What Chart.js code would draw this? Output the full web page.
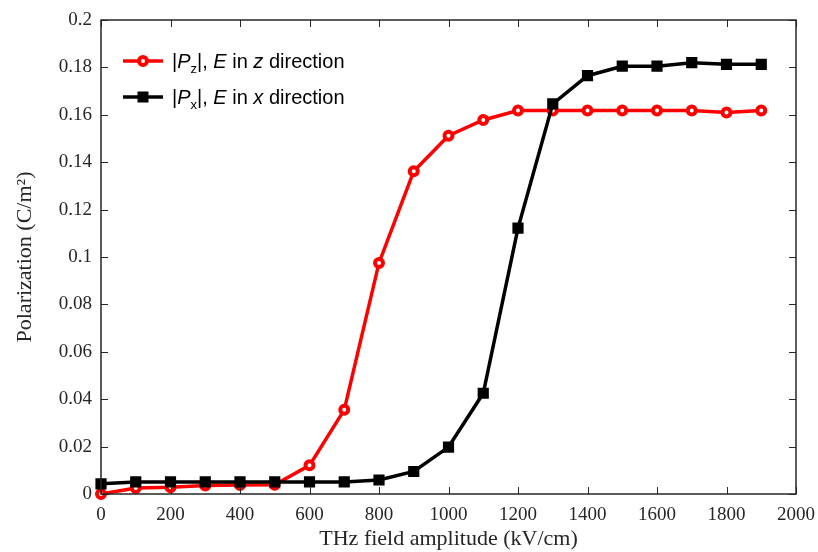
<!DOCTYPE html>
<html>
<head>
<meta charset="utf-8">
<script src="https://cdn.jsdelivr.net/npm/chart.js@4.4.1/dist/chart.umd.min.js"></script>
<style>
  html, body { margin: 0; padding: 0; background: #fff; }
  #wrap { width: 818px; height: 552px; }
</style>
</head>
<body>
<div id="wrap"><canvas id="grafico" width="818" height="552"></canvas></div>
<script>
// THz field amplitude (kV/cm)
const campo = [0, 100, 200, 300, 400, 500, 600, 700, 800, 900, 1000, 1100, 1200, 1300, 1400, 1500, 1600, 1700, 1800, 1900];
// |Pz|, E in z direction
const polZ = [0, 0.0025, 0.0028, 0.0036, 0.0038, 0.0039, 0.0121, 0.0355, 0.0975, 0.1362, 0.1512, 0.1578, 0.1618, 0.1618, 0.1618, 0.1618, 0.1618, 0.1618, 0.1610, 0.1618];
// |Px|, E in x direction
const polX = [0.0043, 0.0051, 0.0051, 0.0051, 0.0051, 0.0051, 0.0051, 0.0051, 0.0059, 0.0095, 0.0198, 0.0425, 0.1122, 0.1646, 0.1765, 0.1805, 0.1805, 0.1820, 0.1813, 0.1813];
const ticksX = [0, 200, 400, 600, 800, 1000, 1200, 1400, 1600, 1800, 2000];
const ticksY = [0, 0.02, 0.04, 0.06, 0.08, 0.1, 0.12, 0.14, 0.16, 0.18, 0.2];

const corTexto = "#262626";
const serif = "'Liberation Serif', 'Times New Roman', serif";
const sans = "'Liberation Sans', Arial, sans-serif";

// caixa e ticks para dentro (estilo MATLAB)
const caixaPlugin = {
  id: "caixa",
  afterDraw(chart) {
    const ctx = chart.ctx;
    const a = chart.chartArea;
    const sx = chart.scales.x, sy = chart.scales.y;
    const len = 7;
    ctx.save();
    ctx.strokeStyle = corTexto;
    ctx.lineWidth = 1;
    ticksX.forEach(v => {
      const px = Math.round(sx.getPixelForValue(v)) + 0.5;
      ctx.beginPath();
      ctx.moveTo(px, a.bottom); ctx.lineTo(px, a.bottom - len);
      ctx.moveTo(px, a.top); ctx.lineTo(px, a.top + len);
      ctx.stroke();
    });
    ticksY.forEach(v => {
      const py = Math.round(sy.getPixelForValue(v)) + 0.5;
      ctx.beginPath();
      ctx.moveTo(a.left, py); ctx.lineTo(a.left + len, py);
      ctx.moveTo(a.right, py); ctx.lineTo(a.right - len, py);
      ctx.stroke();
    });
    ctx.lineWidth = 1.5;
    ctx.strokeRect(a.left, a.top, a.right - a.left, a.bottom - a.top);
    ctx.restore();
  }
};

// legenda desenhada à mão por causa do itálico e dos subscritos
const legendaPlugin = {
  id: "legendaCustom",
  afterDraw(chart) {
    const ctx = chart.ctx;
    const linhas = [
      { y: 61, cor: "#ff0000", marcador: "circle", sub: "z", dir: "z" },
      { y: 97, cor: "#000000", marcador: "rect", sub: "x", dir: "x" }
    ];
    ctx.save();
    linhas.forEach(l => {
      ctx.strokeStyle = l.cor;
      ctx.lineWidth = 3.5;
      ctx.beginPath();
      ctx.moveTo(123, l.y); ctx.lineTo(163, l.y);
      ctx.stroke();
      if (l.marcador === "circle") {
        ctx.fillStyle = "#fff";
        ctx.lineWidth = 4;
        ctx.beginPath();
        ctx.arc(143, l.y, 4, 0, Math.PI * 2);
        ctx.fill();
        ctx.stroke();
      } else {
        ctx.fillStyle = l.cor;
        ctx.fillRect(137.5, l.y - 5.5, 11, 11);
      }

      ctx.fillStyle = "#000";
      ctx.textBaseline = "alphabetic";
      let x = 172;
      const base = l.y + 7;
      const partes = [
        ["|", "", 20, 0],
        ["P", "italic ", 20, 0],
        [l.sub, "", 13, 5],
        ["|, ", "", 20, 0],
        ["E", "italic ", 20, 0],
        [" in ", "", 20, 0],
        [l.dir, "italic ", 20, 0],
        [" direction", "", 20, 0]
      ];
      partes.forEach(([txt, estilo, tam, dy]) => {
        ctx.font = estilo + tam + "px " + sans;
        ctx.fillText(txt, x, base + dy);
        x += ctx.measureText(txt).width;
      });
    });
    ctx.restore();
  }
};

new Chart(document.getElementById("grafico").getContext("2d"), {
  type: "line",
  data: {
    datasets: [
      {
        label: "|Px|, E in x direction",
        data: campo.map((c, i) => ({ x: c, y: polX[i] })),
        borderColor: "#000",
        backgroundColor: "#000",
        borderWidth: 3.5,
        pointStyle: "rect",
        pointRadius: 6.5,
        pointBorderWidth: 2,
        pointBackgroundColor: "#000",
        tension: 0,
        order: 0
      },
      {
        label: "|Pz|, E in z direction",
        data: campo.map((c, i) => ({ x: c, y: polZ[i] })),
        borderColor: "#ff0000",
        backgroundColor: "#ff0000",
        borderWidth: 3.5,
        pointStyle: "circle",
        pointRadius: 4,
        pointBorderWidth: 4,
        pointBackgroundColor: "#fff",
        tension: 0,
        order: 1
      }
    ]
  },
  options: {
    responsive: false,
    animation: false,
    clip: false,
    layout: { padding: { top: 20, right: 22, left: 0, bottom: 0 } },
    plugins: {
      legend: { display: false },
      tooltip: { enabled: false }
    },
    scales: {
      x: {
        type: "linear",
        min: 0,
        max: 2000,
        afterBuildTicks: s => { s.ticks = ticksX.map(v => ({ value: v })); },
        afterFit: s => { s.height = 58; s.paddingLeft = 0; s.paddingRight = 0; },
        grid: { display: false, drawTicks: false },
        border: { display: false },
        ticks: {
          padding: 10,
          color: corTexto,
          font: { family: serif, size: 19 },
          maxRotation: 0,
          callback: v => String(v)
        },
        title: {
          display: true,
          text: "THz field amplitude (kV/cm)",
          color: corTexto,
          font: { family: serif, size: 22 },
          padding: { top: 0, bottom: 0 }
        }
      },
      y: {
        type: "linear",
        min: 0,
        max: 0.2,
        afterBuildTicks: s => { s.ticks = ticksY.map(v => ({ value: v })); },
        afterFit: s => { s.width = 101; s.paddingTop = 0; s.paddingBottom = 0; },
        grid: { display: false, drawTicks: false },
        border: { display: false },
        ticks: {
          padding: 9,
          color: corTexto,
          font: { family: serif, size: 19 },
          callback: v => String(+v.toFixed(2))
        },
        title: {
          display: true,
          text: "Polarization (C/m²)",
          color: corTexto,
          font: { family: serif, size: 22 },
          padding: { top: 12, bottom: 0 }
        }
      }
    }
  },
  plugins: [caixaPlugin, legendaPlugin]
});
</script>
</body>
</html>
